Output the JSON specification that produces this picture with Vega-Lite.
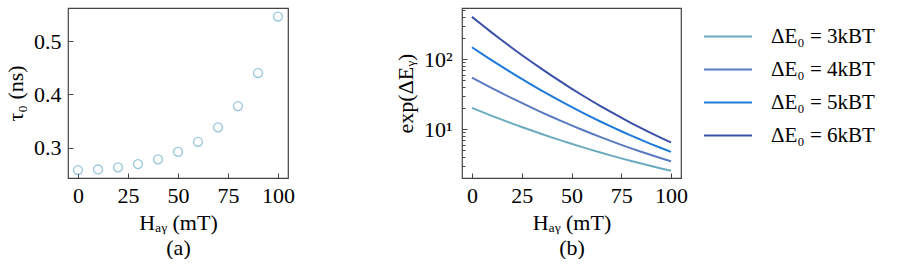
{
  "$schema": "https://vega.github.io/schema/vega-lite/v6.json",
  "padding": {"left": 3, "top": 7, "right": 0, "bottom": 0},
  "spacing": 97,
  "config": {
    "font": "Liberation Serif",
    "view": {"stroke": "#444444", "strokeWidth": 1.2},
    "axis": {
      "labelFont": "Liberation Serif",
      "titleFont": "Liberation Serif",
      "labelFontSize": 22,
      "titleFontSize": 22,
      "titleFontWeight": "normal",
      "labelColor": "#000000",
      "titleColor": "#000000",
      "domain": false,
      "grid": false,
      "tickColor": "#444444",
      "tickSize": -5,
      "tickWidth": 1,
      "labelFlush": false,
      "labelOverlap": false
    }
  },
  "hconcat": [
    {
      "width": 220,
      "height": 170,
      "data": {"values": [
        {"H": 0, "tau": 0.258},
        {"H": 10, "tau": 0.259},
        {"H": 20, "tau": 0.263},
        {"H": 30, "tau": 0.269},
        {"H": 40, "tau": 0.278},
        {"H": 50, "tau": 0.292},
        {"H": 60, "tau": 0.311},
        {"H": 70, "tau": 0.338},
        {"H": 80, "tau": 0.378},
        {"H": 90, "tau": 0.440},
        {"H": 100, "tau": 0.546}
      ]},
      "mark": {"type": "point", "shape": "circle", "filled": false, "size": 80, "strokeWidth": 1.3, "color": "#6fb0d2"},
      "encoding": {
        "x": {"field": "H", "type": "quantitative",
              "scale": {"domain": [-5, 105], "nice": false, "zero": false},
              "axis": {"values": [0, 25, 50, 75, 100], "labelPadding": 12, "title": ["Hₐᵧ (mT)", "(a)"], "titleLineHeight": 25, "titlePadding": 6}},
        "y": {"field": "tau", "type": "quantitative",
              "scale": {"domain": [0.243, 0.562], "nice": false, "zero": false},
              "axis": {"values": [0.3, 0.4, 0.5], "format": ".1f", "labelPadding": 12, "title": "τ₀ (ns)", "titlePadding": 6}}
      }
    },
    {
      "width": 219,
      "height": 170,
      "data": {"values": [
        {"H": 0, "v": 20.09, "s": "ΔE₀ = 3kBT"},
        {"H": 5, "v": 17.62, "s": "ΔE₀ = 3kBT"},
        {"H": 10, "v": 15.49, "s": "ΔE₀ = 3kBT"},
        {"H": 15, "v": 13.67, "s": "ΔE₀ = 3kBT"},
        {"H": 20, "v": 12.09, "s": "ΔE₀ = 3kBT"},
        {"H": 25, "v": 10.73, "s": "ΔE₀ = 3kBT"},
        {"H": 30, "v": 9.549, "s": "ΔE₀ = 3kBT"},
        {"H": 35, "v": 8.523, "s": "ΔE₀ = 3kBT"},
        {"H": 40, "v": 7.631, "s": "ΔE₀ = 3kBT"},
        {"H": 45, "v": 6.850, "s": "ΔE₀ = 3kBT"},
        {"H": 50, "v": 6.168, "s": "ΔE₀ = 3kBT"},
        {"H": 55, "v": 5.570, "s": "ΔE₀ = 3kBT"},
        {"H": 60, "v": 5.046, "s": "ΔE₀ = 3kBT"},
        {"H": 65, "v": 4.584, "s": "ΔE₀ = 3kBT"},
        {"H": 70, "v": 4.176, "s": "ΔE₀ = 3kBT"},
        {"H": 75, "v": 3.816, "s": "ΔE₀ = 3kBT"},
        {"H": 80, "v": 3.497, "s": "ΔE₀ = 3kBT"},
        {"H": 85, "v": 3.215, "s": "ΔE₀ = 3kBT"},
        {"H": 90, "v": 2.963, "s": "ΔE₀ = 3kBT"},
        {"H": 95, "v": 2.740, "s": "ΔE₀ = 3kBT"},
        {"H": 100, "v": 2.541, "s": "ΔE₀ = 3kBT"},
        {"H": 0, "v": 54.60, "s": "ΔE₀ = 4kBT"},
        {"H": 5, "v": 45.84, "s": "ΔE₀ = 4kBT"},
        {"H": 10, "v": 38.62, "s": "ΔE₀ = 4kBT"},
        {"H": 15, "v": 32.67, "s": "ΔE₀ = 4kBT"},
        {"H": 20, "v": 27.75, "s": "ΔE₀ = 4kBT"},
        {"H": 25, "v": 23.67, "s": "ΔE₀ = 4kBT"},
        {"H": 30, "v": 20.26, "s": "ΔE₀ = 4kBT"},
        {"H": 35, "v": 17.41, "s": "ΔE₀ = 4kBT"},
        {"H": 40, "v": 15.02, "s": "ΔE₀ = 4kBT"},
        {"H": 45, "v": 13.01, "s": "ΔE₀ = 4kBT"},
        {"H": 50, "v": 11.31, "s": "ΔE₀ = 4kBT"},
        {"H": 55, "v": 9.875, "s": "ΔE₀ = 4kBT"},
        {"H": 60, "v": 8.654, "s": "ΔE₀ = 4kBT"},
        {"H": 65, "v": 7.614, "s": "ΔE₀ = 4kBT"},
        {"H": 70, "v": 6.726, "s": "ΔE₀ = 4kBT"},
        {"H": 75, "v": 5.963, "s": "ΔE₀ = 4kBT"},
        {"H": 80, "v": 5.309, "s": "ΔE₀ = 4kBT"},
        {"H": 85, "v": 4.745, "s": "ΔE₀ = 4kBT"},
        {"H": 90, "v": 4.257, "s": "ΔE₀ = 4kBT"},
        {"H": 95, "v": 3.834, "s": "ΔE₀ = 4kBT"},
        {"H": 100, "v": 3.467, "s": "ΔE₀ = 4kBT"},
        {"H": 0, "v": 148.4, "s": "ΔE₀ = 5kBT"},
        {"H": 5, "v": 119.3, "s": "ΔE₀ = 5kBT"},
        {"H": 10, "v": 96.29, "s": "ΔE₀ = 5kBT"},
        {"H": 15, "v": 78.13, "s": "ΔE₀ = 5kBT"},
        {"H": 20, "v": 63.71, "s": "ΔE₀ = 5kBT"},
        {"H": 25, "v": 52.19, "s": "ΔE₀ = 5kBT"},
        {"H": 30, "v": 42.98, "s": "ΔE₀ = 5kBT"},
        {"H": 35, "v": 35.56, "s": "ΔE₀ = 5kBT"},
        {"H": 40, "v": 29.57, "s": "ΔE₀ = 5kBT"},
        {"H": 45, "v": 24.71, "s": "ΔE₀ = 5kBT"},
        {"H": 50, "v": 20.75, "s": "ΔE₀ = 5kBT"},
        {"H": 55, "v": 17.51, "s": "ΔE₀ = 5kBT"},
        {"H": 60, "v": 14.84, "s": "ΔE₀ = 5kBT"},
        {"H": 65, "v": 12.65, "s": "ΔE₀ = 5kBT"},
        {"H": 70, "v": 10.83, "s": "ΔE₀ = 5kBT"},
        {"H": 75, "v": 9.319, "s": "ΔE₀ = 5kBT"},
        {"H": 80, "v": 8.059, "s": "ΔE₀ = 5kBT"},
        {"H": 85, "v": 7.003, "s": "ΔE₀ = 5kBT"},
        {"H": 90, "v": 6.115, "s": "ΔE₀ = 5kBT"},
        {"H": 95, "v": 5.366, "s": "ΔE₀ = 5kBT"},
        {"H": 100, "v": 4.731, "s": "ΔE₀ = 5kBT"},
        {"H": 0, "v": 403.4, "s": "ΔE₀ = 6kBT"},
        {"H": 5, "v": 310.2, "s": "ΔE₀ = 6kBT"},
        {"H": 10, "v": 240.0, "s": "ΔE₀ = 6kBT"},
        {"H": 15, "v": 186.8, "s": "ΔE₀ = 6kBT"},
        {"H": 20, "v": 146.2, "s": "ΔE₀ = 6kBT"},
        {"H": 25, "v": 115.1, "s": "ΔE₀ = 6kBT"},
        {"H": 30, "v": 91.18, "s": "ΔE₀ = 6kBT"},
        {"H": 35, "v": 72.64, "s": "ΔE₀ = 6kBT"},
        {"H": 40, "v": 58.22, "s": "ΔE₀ = 6kBT"},
        {"H": 45, "v": 46.94, "s": "ΔE₀ = 6kBT"},
        {"H": 50, "v": 38.05, "s": "ΔE₀ = 6kBT"},
        {"H": 55, "v": 31.03, "s": "ΔE₀ = 6kBT"},
        {"H": 60, "v": 25.46, "s": "ΔE₀ = 6kBT"},
        {"H": 65, "v": 21.01, "s": "ΔE₀ = 6kBT"},
        {"H": 70, "v": 17.44, "s": "ΔE₀ = 6kBT"},
        {"H": 75, "v": 14.56, "s": "ΔE₀ = 6kBT"},
        {"H": 80, "v": 12.23, "s": "ΔE₀ = 6kBT"},
        {"H": 85, "v": 10.33, "s": "ΔE₀ = 6kBT"},
        {"H": 90, "v": 8.783, "s": "ΔE₀ = 6kBT"},
        {"H": 95, "v": 7.508, "s": "ΔE₀ = 6kBT"},
        {"H": 100, "v": 6.456, "s": "ΔE₀ = 6kBT"}
      ]},
      "resolve": {"axis": {"y": "independent"}},
      "layer": [
        {
          "mark": {"type": "line", "strokeWidth": 2, "interpolate": "monotone"},
          "encoding": {
            "x": {"field": "H", "type": "quantitative",
                  "scale": {"domain": [-5, 105], "nice": false, "zero": false},
                  "axis": {"values": [0, 25, 50, 75, 100], "labelPadding": 12, "title": ["Hₐᵧ (mT)", "(b)"], "titleLineHeight": 25, "titlePadding": 6}},
            "y": {"field": "v", "type": "quantitative",
                  "scale": {"type": "log", "domain": [2, 540], "nice": false, "zero": false},
                  "axis": {"orient": "left", "values": [10, 100], "labelExpr": "datum.value == 100 ? '10²' : '10¹'", "labelPadding": 15, "title": "exp(ΔEᵧ)", "titlePadding": 6}},
            "color": {"field": "s", "type": "nominal",
                      "scale": {"domain": ["ΔE₀ = 3kBT", "ΔE₀ = 4kBT", "ΔE₀ = 5kBT", "ΔE₀ = 6kBT"],
                                "range": ["#6aabbf", "#5a7ac2", "#1f7ad8", "#3b50a8"]},
                      "legend": {"title": null, "orient": "right", "offset": 2, "padding": 12,
                                 "symbolType": "stroke", "symbolSize": 2304, "symbolStrokeWidth": 2,
                                 "labelFont": "Liberation Serif", "labelFontSize": 21, "labelColor": "#000000",
                                 "labelOffset": 18, "rowPadding": 0, "clipHeight": 33}}
          }
        },
        {
          "mark": {"type": "line", "strokeWidth": 2, "opacity": 0, "interpolate": "monotone"},
          "encoding": {
            "x": {"field": "H", "type": "quantitative"},
            "y": {"field": "v", "type": "quantitative",
                  "axis": {"orient": "left", "values": [3, 4, 5, 6, 7, 8, 9, 20, 30, 40, 50, 60, 70, 80, 90, 200, 300, 400, 500], "labels": false, "tickSize": -3, "title": null}},
            "detail": {"field": "s"}
          }
        }
      ]
    }
  ]
}
